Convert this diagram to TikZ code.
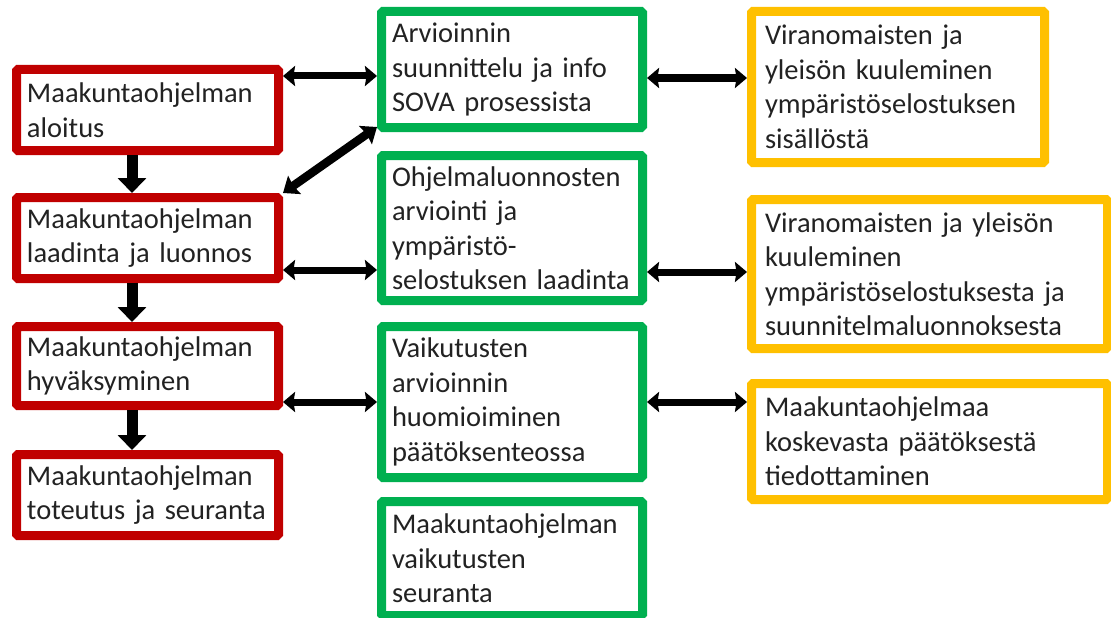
\documentclass[tikz,border=0pt]{standalone}
\usepackage{fontspec}
\setmainfont{Carlito}
\usetikzlibrary{arrows.meta}
\definecolor{rd}{HTML}{C00000}
\definecolor{gr}{HTML}{00B050}
\definecolor{og}{HTML}{FFC000}
\definecolor{txt}{HTML}{222222}
\begin{document}
\begin{tikzpicture}[x=1pt,y=-1pt,
  box/.style={draw, line width=9pt, fill=white, rounded corners=1.5pt, align=left,
    inner xsep=10.5pt, inner ysep=0pt, font=\fontsize{28.5}{34.5}\selectfont, text=txt},
  redbox/.style={box, draw=rd, minimum width=262pt, text width=241pt},
  greenbox/.style={box, draw=gr, minimum width=261pt, text width=240pt},
  orangebox/.style={box, draw=og, inner xsep=13.5pt},
  dbl/.style={line width=7pt, {Stealth[length=12pt,width=20pt,inset=1.5pt]}-{Stealth[length=12pt,width=20pt,inset=1.5pt]}},
  diagarrow/.style={line width=8.5pt, {Stealth[length=14pt,width=22pt,inset=1.5pt]}-{Stealth[length=14pt,width=22pt,inset=1.5pt]}},
  down/.style={line width=11pt, -{Triangle[length=15pt,width=28pt]}}
]
\useasboundingbox (0,0) rectangle (1111,618);
\clip (0,0) rectangle (1111,618);

% red column
\node[redbox, minimum height=81pt] (r1) at (147.5,110) {Maakuntaohjelman\\aloitus};
\node[redbox, minimum height=81pt] (r2) at (147.5,238) {Maakuntaohjelman\\laadinta ja luonnos};
\node[redbox, minimum height=79pt] (r3) at (147.5,366) {Maakuntaohjelman\\hyväksyminen};
\node[redbox, minimum height=81pt] (r4) at (147.5,495) {Maakuntaohjelman\\toteutus ja seuranta};

% green column
\node[greenbox, minimum height=116pt] (g1) at (512,69.5) {Arvioinnin\\suunnittelu ja info\\SOVA prosessista};
\node[greenbox, minimum height=145pt] (g2) at (512,228) {Ohjelmaluonnosten\\arviointi ja\\ympäristö-\\selostuksen laadinta};
\node[greenbox, minimum height=151pt] (g3) at (512,402) {Vaikutusten\\arvioinnin\\huomioiminen\\päätöksenteossa};
\node[greenbox, minimum height=114pt] (g4) at (512,558.5) {Maakuntaohjelman\\vaikutusten\\seuranta};

% orange column
\node[orangebox, minimum width=293pt, text width=266pt, minimum height=151pt] (o1) at (898,87) {Viranomaisten ja\\yleisön kuuleminen\\ympäristöselostuksen\\sisällöstä};
\node[orangebox, minimum width=356pt, text width=329pt, minimum height=149pt] (o2) at (929.5,274) {Viranomaisten ja yleisön\\kuuleminen\\ympäristöselostuksesta ja\\suunnitelmaluonnoksesta};
\node[orangebox, minimum width=356pt, text width=329pt, minimum height=116pt] (o3) at (929.5,441.5) {Maakuntaohjelmaa\\koskevasta päätöksestä\\tiedottaminen};

% vertical arrows
\draw[down] ([xshift=-15.5pt]r1.south) -- ([xshift=-15.5pt]r2.north);
\draw[down] ([xshift=-15.5pt]r2.south) -- ([xshift=-15.5pt]r3.north);
\draw[down] ([xshift=-15.5pt]r3.south) -- ([xshift=-15.5pt]r4.north);

% red <-> green
\draw[dbl] ([yshift=34pt]r1.east) -- ([yshift=-6.5pt]g1.west);
\draw[diagarrow] (r2.north east) -- ([yshift=5pt]g1.south west);
\draw[dbl] ([yshift=-32pt]r2.east) -- ([yshift=-42pt]g2.west);
\draw[dbl] ([yshift=-36pt]r3.east) -- (g3.west);

% green <-> orange
\draw[dbl] ([yshift=-8.5pt]g1.east) -- ([yshift=9pt]o1.west);
\draw[dbl] ([yshift=-44pt]g2.east) -- ([yshift=2pt]o2.west);
\draw[dbl] (g3.east) -- ([yshift=39.5pt]o3.west);
\end{tikzpicture}
\end{document}
